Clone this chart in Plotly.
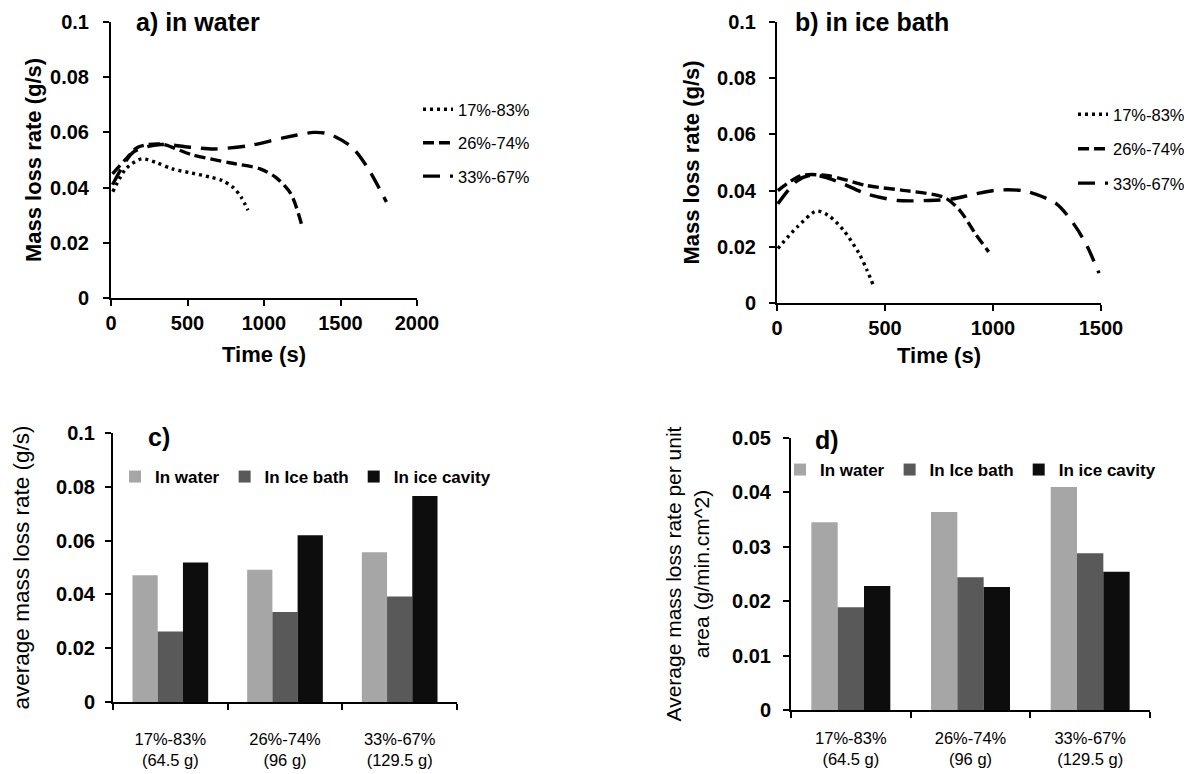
import plotly.graph_objects as go

# ---------------- data ----------------
series_names = ["17%-83%", "26%-74%", "33%-67%"]

# panel a) in water : time (s) / mass loss rate (g/s)
a_t_17 = [12, 100, 200, 300, 400, 525, 650, 725, 800, 850, 895]
a_y_17 = [0.0385, 0.0470, 0.0504, 0.0490, 0.0468, 0.0453, 0.0438, 0.0426, 0.0400, 0.0366, 0.0318]
a_t_26 = [10, 100, 175, 325, 525, 775, 975, 1075, 1175, 1250]
a_y_26 = [0.0450, 0.0505, 0.0546, 0.0558, 0.0520, 0.0490, 0.0468, 0.0438, 0.0378, 0.0258]
a_t_33 = [10, 150, 325, 525, 675, 900, 1125, 1325, 1425, 1575, 1675, 1800]
a_y_33 = [0.0410, 0.0530, 0.0556, 0.0546, 0.0540, 0.0552, 0.0580, 0.0600, 0.0594, 0.0546, 0.0474, 0.0348]

# panel b) in ice bath
b_t_17 = [4, 93, 183, 237, 308, 380, 416, 448]
b_y_17 = [0.0194, 0.0270, 0.0327, 0.0312, 0.0259, 0.0176, 0.0118, 0.0059]
b_t_26 = [4, 111, 237, 416, 595, 774, 846, 918, 980]
b_y_26 = [0.0400, 0.0453, 0.0453, 0.0418, 0.0400, 0.0376, 0.0330, 0.0247, 0.0182]
b_t_33 = [4, 93, 165, 272, 416, 559, 703, 810, 918, 1025, 1150, 1294, 1384, 1437, 1491]
b_y_33 = [0.0353, 0.0435, 0.0456, 0.0435, 0.0388, 0.0365, 0.0365, 0.0370, 0.0388, 0.0402,
          0.0398, 0.0353, 0.0270, 0.0200, 0.0106]

# bar panels
bar_categories = ["17%-83%<br>(64.5 g)", "26%-74%<br>(96 g)", "33%-67%<br>(129.5 g)"]
bar_series = ["In water", "In Ice bath", "In ice cavity"]
c_water = [0.0471, 0.0492, 0.0557]
c_icebath = [0.0262, 0.0335, 0.0392]
c_cavity = [0.0519, 0.0620, 0.0766]
d_water = [0.0345, 0.0364, 0.0410]
d_icebath = [0.0189, 0.0244, 0.0288]
d_cavity = [0.0228, 0.0226, 0.0254]

y_ticks_01 = [0, 0.02, 0.04, 0.06, 0.08, 0.1]
y_ticktext_01 = ["0", "0.02", "0.04", "0.06", "0.08", "0.1"]
y_ticks_005 = [0, 0.01, 0.02, 0.03, 0.04, 0.05]
y_ticktext_005 = ["0", "0.01", "0.02", "0.03", "0.04", "0.05"]
a_xticks = [0, 500, 1000, 1500, 2000]
b_xticks = [0, 500, 1000, 1500]

# ---------------- styles ----------------
W, H = 1192, 774
OFF = 8  # page body margin offset
FONT = "Liberation Sans, Arial, sans-serif"
dashes = ["3px,4px", "11px,5px", "17px,10px"]
bar_colors = ["#a6a6a6", "#595959", "#0d0d0d"]

fig = go.Figure()

def add_lines(ts, ys, xa, ya, leg):
    for i, (t, y) in enumerate(zip(ts, ys)):
        fig.add_trace(go.Scatter(
            x=t, y=y, mode="lines", name=series_names[i],
            line=dict(color="black", width=3.4, dash=dashes[i], shape="spline", smoothing=0.8),
            xaxis=xa, yaxis=ya, legend=leg, legendgroup=leg + str(i),
        ))

add_lines([a_t_17, a_t_26, a_t_33], [a_y_17, a_y_26, a_y_33], "x", "y", "legend")
add_lines([b_t_17, b_t_26, b_t_33], [b_y_17, b_y_26, b_y_33], "x2", "y2", "legend2")

for vals, xa, ya, leg in [([c_water, c_icebath, c_cavity], "x3", "y3", "legend3"),
                          ([d_water, d_icebath, d_cavity], "x4", "y4", "legend4")]:
    for i, v in enumerate(vals):
        fig.add_trace(go.Bar(
            x=bar_categories, y=v, name=bar_series[i],
            marker=dict(color=bar_colors[i], line=dict(width=0)),
            xaxis=xa, yaxis=ya, legend=leg,
        ))

def fx(px):
    return (px - OFF) / W

def fy(py):
    return 1 - (py - OFF) / H

def px_x(a, b):
    return [fx(a), fx(b)]

def px_y(top, bottom):
    return [fy(bottom), fy(top)]

axis_common = dict(
    showline=True, linecolor="black", linewidth=2, ticks="outside", ticklen=6,
    tickwidth=2, tickcolor="black", showgrid=False, zeroline=False, automargin=False,
)
tickfont = dict(family=FONT, size=20, color="black", weight="bold")
cat_font = dict(family=FONT, size=16.5, color="black")
title_bold = dict(family=FONT, size=22, weight="bold", color="black")
panel_font = dict(family=FONT, size=25, weight="bold", color="black")

layout = dict(
    width=W, height=H, margin=dict(l=0, r=0, t=0, b=0, autoexpand=False),
    paper_bgcolor="white", plot_bgcolor="white",
    barmode="group", bargap=0.34, bargroupgap=0,
    font=dict(family=FONT, color="black"),
    xaxis=dict(domain=px_x(111, 417), range=[0, 2000], tickvals=a_xticks, anchor="y",
               tickfont=tickfont, title=dict(text="Time (s)", font=title_bold, standoff=14),
               **axis_common),
    yaxis=dict(domain=px_y(22, 298), range=[0, 0.1], tickvals=y_ticks_01, ticktext=y_ticktext_01,
               anchor="x", tickfont=tickfont, ticklabelstandoff=10,
               title=dict(text="Mass loss rate (g/s)", font=title_bold, standoff=2),
               **axis_common),
    xaxis2=dict(domain=px_x(777, 1101), range=[0, 1500], tickvals=b_xticks, anchor="y2",
                tickfont=tickfont, title=dict(text="Time (s)", font=title_bold, standoff=10),
                **axis_common),
    yaxis2=dict(domain=px_y(22, 303), range=[0, 0.1], tickvals=y_ticks_01, ticktext=y_ticktext_01,
                anchor="x2", tickfont=tickfont, ticklabelstandoff=9,
                title=dict(text="Mass loss rate (g/s)", font=title_bold, standoff=11),
                **axis_common),
    xaxis3=dict(domain=px_x(113, 457), type="category", range=[-0.5, 2.5], anchor="y3",
                tickson="boundaries", tickfont=cat_font, ticklabelstandoff=21, **axis_common),
    yaxis3=dict(domain=px_y(433, 702), range=[0, 0.1], tickvals=y_ticks_01, ticktext=y_ticktext_01,
                anchor="x3", tickfont=tickfont, ticklabelstandoff=6,
                title=dict(text="average mass loss rate (g/s)", font=dict(family=FONT, size=22.5),
                           standoff=20),
                **axis_common),
    xaxis4=dict(domain=px_x(791, 1150), type="category", range=[-0.5, 2.5], anchor="y4",
                tickson="boundaries", tickfont=cat_font, ticklabelstandoff=12, **axis_common),
    yaxis4=dict(domain=px_y(438, 710), range=[0, 0.05], tickvals=y_ticks_005, ticktext=y_ticktext_005,
                anchor="x4", tickfont=tickfont, ticklabelstandoff=8,
                title=dict(text="Average mass loss rate per unit<br>area (g/min.cm^2)",
                           font=dict(family=FONT, size=21), standoff=17),
                **axis_common),
    legend=dict(x=fx(418), y=fy(92), xanchor="left", yanchor="top", bgcolor="rgba(0,0,0,0)",
                font=dict(family=FONT, size=16.5, color="black"), traceorder="grouped",
                tracegroupgap=9, itemwidth=30),
    legend2=dict(x=fx(1073), y=fy(97), xanchor="left", yanchor="top", bgcolor="rgba(0,0,0,0)",
                 font=dict(family=FONT, size=16.5, color="black"), traceorder="grouped",
                 tracegroupgap=10, itemwidth=30),
    legend3=dict(x=fx(115), y=fy(477), xanchor="left", yanchor="middle", orientation="h",
                 bgcolor="rgba(0,0,0,0)", font=dict(family=FONT, size=17, color="black", weight="bold"),
                 itemwidth=30),
    legend4=dict(x=fx(780), y=fy(470), xanchor="left", yanchor="middle", orientation="h",
                 bgcolor="rgba(0,0,0,0)", font=dict(family=FONT, size=17, color="black", weight="bold"),
                 itemwidth=30),
    annotations=[
        dict(text="a) in water", x=fx(134), y=fy(22), xref="paper", yref="paper",
             xanchor="left", yanchor="middle", showarrow=False, font=panel_font),
        dict(text="b) in ice bath", x=fx(793), y=fy(22), xref="paper", yref="paper",
             xanchor="left", yanchor="middle", showarrow=False, font=panel_font),
        dict(text="c)", x=fx(146), y=fy(437), xref="paper", yref="paper",
             xanchor="left", yanchor="middle", showarrow=False, font=panel_font),
        dict(text="d)", x=fx(813), y=fy(440), xref="paper", yref="paper",
             xanchor="left", yanchor="middle", showarrow=False, font=panel_font),
    ],
)
fig.update_layout(**layout)
fig.write_html("out.html")
